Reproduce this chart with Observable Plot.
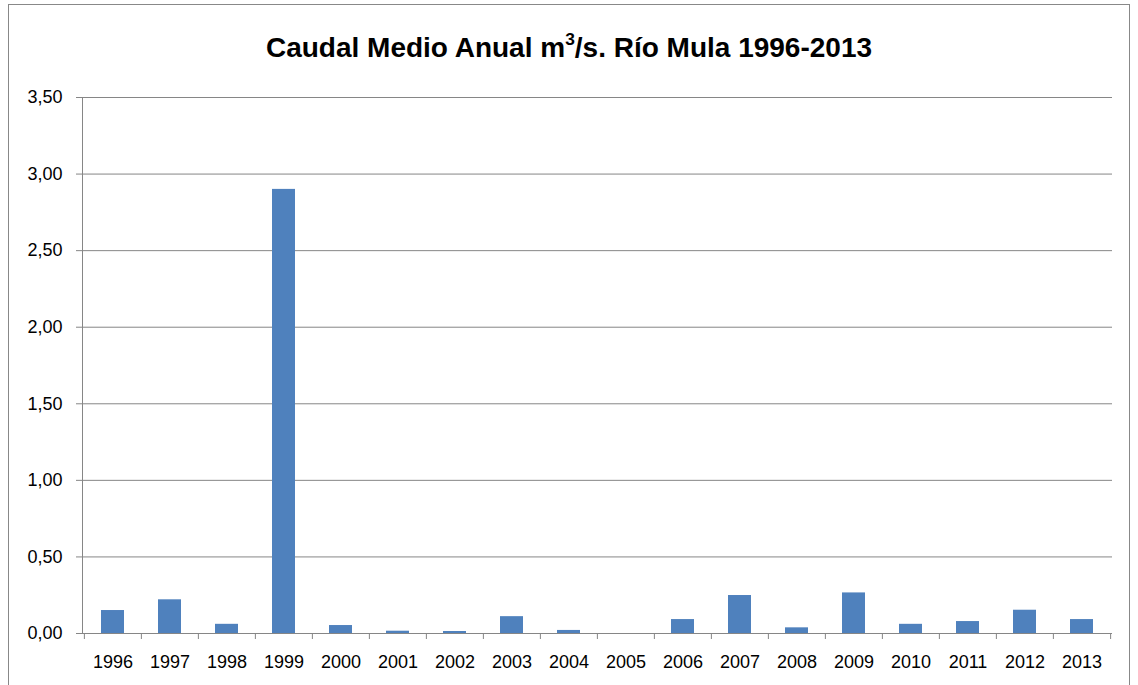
<!DOCTYPE html>
<html><head><meta charset="utf-8">
<script src="https://cdn.jsdelivr.net/npm/d3@7"></script>
<script src="https://cdn.jsdelivr.net/npm/@observablehq/plot@0.6"></script>
<style>
body{margin:0;background:#fff;font-family:"Liberation Sans",Arial,sans-serif;}
#wrap{position:relative;width:1138px;height:685px;overflow:hidden;}
#frame{position:absolute;left:8px;top:4px;width:1122px;height:720px;border:1.5px solid #888;box-sizing:border-box;}
#title{position:relative;height:80px;box-sizing:border-box;padding-top:16px;line-height:64px;text-align:center;font-weight:bold;font-size:28px;color:#000;}
#title sup{font-size:0.62em;line-height:0;position:relative;top:-0.1em;vertical-align:super;}
#chart{position:relative;}
</style></head>
<body>
<div id="wrap">
<div id="frame"></div>
<div id="title">Caudal Medio Anual m<sup>3</sup>/s. Río Mula 1996-2013</div>
<div id="chart"></div>
</div>
<script>
const years = ["1996","1997","1998","1999","2000","2001","2002","2003","2004","2005","2006","2007","2008","2009","2010","2011","2012","2013"];
const caudal = [0.15,0.22,0.06,2.90,0.052,0.015,0.013,0.11,0.02,0,0.091,0.248,0.037,0.265,0.06,0.078,0.152,0.091];
const yTicks = [0,0.5,1,1.5,2,2.5,3,3.5];

const data = years.map((year, i) => ({year, value: caudal[i]}));
const W = 1138, ML = 82, MR = 26;
const step = (W - ML - MR) / years.length;
const gray = "#868686";
const fmt = d => d.toFixed(2).replace(".", ",");

const chart = Plot.plot({
  width: W, height: 605,
  marginLeft: ML, marginRight: MR, marginTop: 17, marginBottom: 52,
  style: {fontFamily: '"Liberation Sans", Arial, sans-serif', fontSize: "18px", color: "#000", background: "transparent", overflow: "visible"},
  x: {domain: years, paddingInner: 0.6, paddingOuter: 0.3, axis: null},
  y: {domain: [0, 3.5], axis: null},
  marks: [
    Plot.gridY(yTicks, {stroke: gray, strokeOpacity: 1}),
    Plot.axisY(yTicks, {tickSize: 6, tickPadding: 14, stroke: gray, tickFormat: fmt, fontSize: 18, fill: "#000", label: null}),
    Plot.barY(data, {x: "year", y: "value", fill: "#4F81BD"}),
    Plot.ruleY([0], {stroke: gray}),
    Plot.frame({anchor: "left", stroke: gray}),
    Plot.axisX(years, {tickSize: 0, tickPadding: 22, fontSize: 18, fill: "#000", label: null}),
    Plot.axisX(years, {tickSize: 6, text: null, dx: -step / 2, stroke: gray, label: null}),
    Plot.axisX([years[years.length - 1]], {tickSize: 6, text: null, dx: step / 2, stroke: gray, label: null})
  ]
});
document.getElementById("chart").appendChild(chart);
</script>
</body></html>
